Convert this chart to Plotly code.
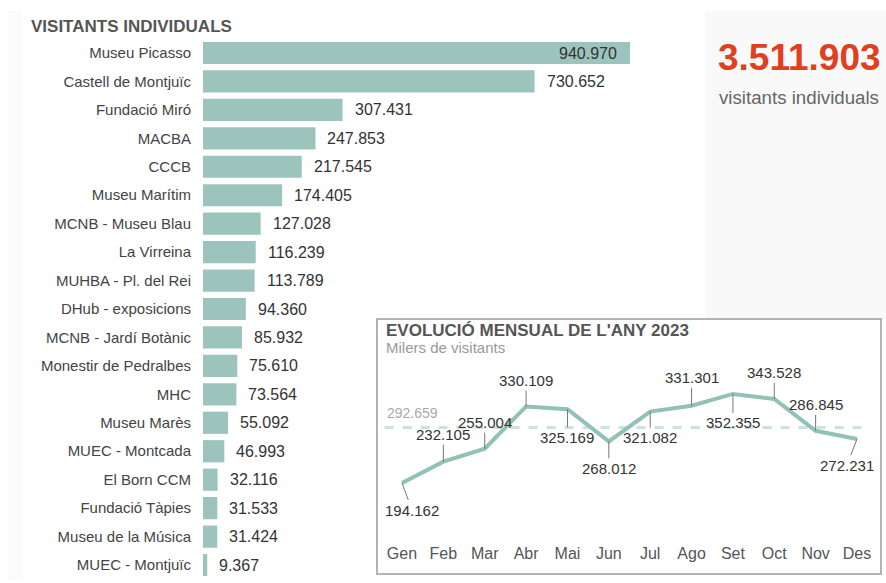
import plotly.graph_objects as go

# ---------------- data ----------------
museums = ["Museu Picasso", "Castell de Montjuïc", "Fundació Miró", "MACBA", "CCCB",
           "Museu Marítim", "MCNB - Museu Blau", "La Virreina", "MUHBA - Pl. del Rei",
           "DHub - exposicions", "MCNB - Jardí Botànic", "Monestir de Pedralbes", "MHC",
           "Museu Marès", "MUEC - Montcada", "El Born CCM", "Fundació Tàpies",
           "Museu de la Música", "MUEC - Montjuïc"]
visitors = [940970, 730652, 307431, 247853, 217545, 174405, 127028, 116239, 113789,
            94360, 85932, 75610, 73564, 55092, 46993, 32116, 31533, 31424, 9367]

months = ["Gen", "Feb", "Mar", "Abr", "Mai", "Jun", "Jul", "Ago", "Set", "Oct", "Nov", "Des"]
monthly = [194162, 232105, 255004, 330109, 325169, 268012, 321082, 331301, 352355,
           343528, 286845, 272231]

title_bars = "VISITANTS INDIVIDUALS"
title_line = "EVOLUCIÓ MENSUAL DE L'ANY 2023"
subtitle_line = "Milers de visitants"
total_label = "visitants individuals"

# ---------------- helpers ----------------
W, H = 886, 583
def fx(p):
    return p / W
def fy(p):
    return 1 - p / H
def fmt(v):
    return f"{v:,}".replace(",", ".")

total = sum(visitors)
mean_val = sum(monthly) / len(monthly)

FONT = "Arial, Liberation Sans, sans-serif"
BAR_COLOR = "#9cc3bc"
LINE_COLOR = "#92c1b7"

fig = go.Figure()

# ---------------- bar chart ----------------
fig.add_trace(go.Bar(
    x=visitors, y=museums, orientation="h",
    marker=dict(color=BAR_COLOR, line=dict(width=0)),
    xaxis="x", yaxis="y", hoverinfo="skip", showlegend=False,
))

annotations = []
for i, (m, v) in enumerate(zip(museums, visitors)):
    inside = i == 0
    annotations.append(dict(
        x=v, y=m, xref="x", yref="y", text=fmt(v), showarrow=False,
        xanchor="right" if inside else "left", xshift=-11 if inside else 10,
        font=dict(family=FONT, size=16, color="#333333"),
    ))

# ---------------- line chart ----------------
fig.add_trace(go.Scatter(
    x=months, y=monthly, mode="lines",
    line=dict(color=LINE_COLOR, width=4),
    xaxis="x2", yaxis="y2", hoverinfo="skip", showlegend=False,
))

offsets = [(10, 27), (0, -27), (0, -26), (0, -26), (0, 28), (0, 27),
           (0, 26), (0, -28), (0, 29), (0, -26), (0, -26), (-10, 26)]
for m, v, (ax, ay) in zip(months, monthly, offsets):
    annotations.append(dict(
        x=m, y=v, xref="x2", yref="y2", text=fmt(v), showarrow=True,
        arrowhead=0, arrowwidth=1, arrowcolor="#777777", ax=ax, ay=ay,
        standoff=0, startstandoff=0,
        font=dict(family=FONT, size=15, color="#333333"),
    ))

annotations.append(dict(
    x=fx(385), y=mean_val, xref="paper", yref="y2", text=fmt(round(mean_val)),
    showarrow=False, xanchor="left", yanchor="bottom", yshift=5,
    font=dict(family=FONT, size=14, color="#aaaaaa"),
))

# titles / texts
annotations += [
    dict(x=fx(29), y=fy(26), xref="paper", yref="paper", text=f"<b>{title_bars}</b>",
         showarrow=False, xanchor="left", yanchor="middle",
         font=dict(family=FONT, size=17, color="#555555")),
    dict(x=fx(799), y=fy(57), xref="paper", yref="paper", text=f"<b>{fmt(total)}</b>",
         showarrow=False, xanchor="center", yanchor="middle",
         font=dict(family=FONT, size=37, color="#e0401f")),
    dict(x=fx(799), y=fy(97), xref="paper", yref="paper", text=total_label,
         showarrow=False, xanchor="center", yanchor="middle",
         font=dict(family=FONT, size=18.7, color="#666666")),
    dict(x=fx(384), y=fy(330), xref="paper", yref="paper", text=f"<b>{title_line}</b>",
         showarrow=False, xanchor="left", yanchor="middle",
         font=dict(family=FONT, size=17, color="#555555")),
    dict(x=fx(384), y=fy(347), xref="paper", yref="paper", text=subtitle_line,
         showarrow=False, xanchor="left", yanchor="middle",
         font=dict(family=FONT, size=15, color="#999999")),
]

shapes = [
    dict(type="rect", xref="paper", yref="paper", x0=fx(8), x1=fx(22), y0=fy(580), y1=fy(11),
         fillcolor="#fbfbfb", line=dict(width=0), layer="below"),
    dict(type="rect", xref="paper", yref="paper", x0=fx(705), x1=fx(886), y0=fy(319), y1=fy(11),
         fillcolor="#f9f9f9", line=dict(width=0), layer="below"),
    dict(type="rect", xref="paper", yref="paper", x0=fx(377), x1=fx(881), y0=fy(574), y1=fy(319),
         fillcolor="#ffffff", line=dict(color="#b3b3b3", width=2), layer="below"),
    # mean line
    dict(type="line", xref="x2", yref="y2", x0=-0.42, x1=11.3, y0=mean_val, y1=mean_val,
         line=dict(color="#cde2dd", width=3, dash="dash"), layer="below"),
]

# axis geometry
bar_x0 = 203
bar_scale = 427 / 940970  # px per visitor
bar_x1 = 700
row_step = 28.44
row_top = 53 - row_step / 2
row_bot = 565 + row_step / 2

lx_step = (857 - 402) / 11
lx0 = 402 - lx_step / 2
lx1 = 857 + lx_step / 2
ly_scale = 0.563 / 1000  # px per visitor
ly_top, ly_bot = 360, 540
y2_lo = monthly[0] - (ly_bot - 483) / ly_scale
y2_hi = monthly[0] + (483 - ly_top) / ly_scale

fig.update_layout(
    width=W, height=H,
    margin=dict(l=0, r=0, t=0, b=0),
    paper_bgcolor="#ffffff", plot_bgcolor="rgba(0,0,0,0)",
    bargap=0.22,
    font=dict(family=FONT),
    xaxis=dict(domain=[fx(bar_x0), fx(bar_x1)], range=[0, (bar_x1 - bar_x0) / bar_scale],
               visible=False, fixedrange=True),
    yaxis=dict(domain=[fy(row_bot), fy(row_top)], autorange="reversed",
               showgrid=False, zeroline=False, showline=False, ticks="",
               ticklabelstandoff=11,
               tickfont=dict(family=FONT, size=15, color="#444444")),
    xaxis2=dict(domain=[fx(lx0), fx(lx1)], range=[-0.5, 11.5], anchor="y2",
                showgrid=False, zeroline=False, showline=False, ticks="",
                ticklabelstandoff=2,
                tickfont=dict(family=FONT, size=16, color="#555555")),
    yaxis2=dict(domain=[fy(ly_bot), fy(ly_top)], range=[y2_lo, y2_hi], anchor="x2",
                visible=False),
    annotations=annotations,
    shapes=shapes,
)

fig.write_html("out.html", config={"displayModeBar": False},
               post_script="document.body.style.margin='0px';document.body.style.overflow='hidden';")
